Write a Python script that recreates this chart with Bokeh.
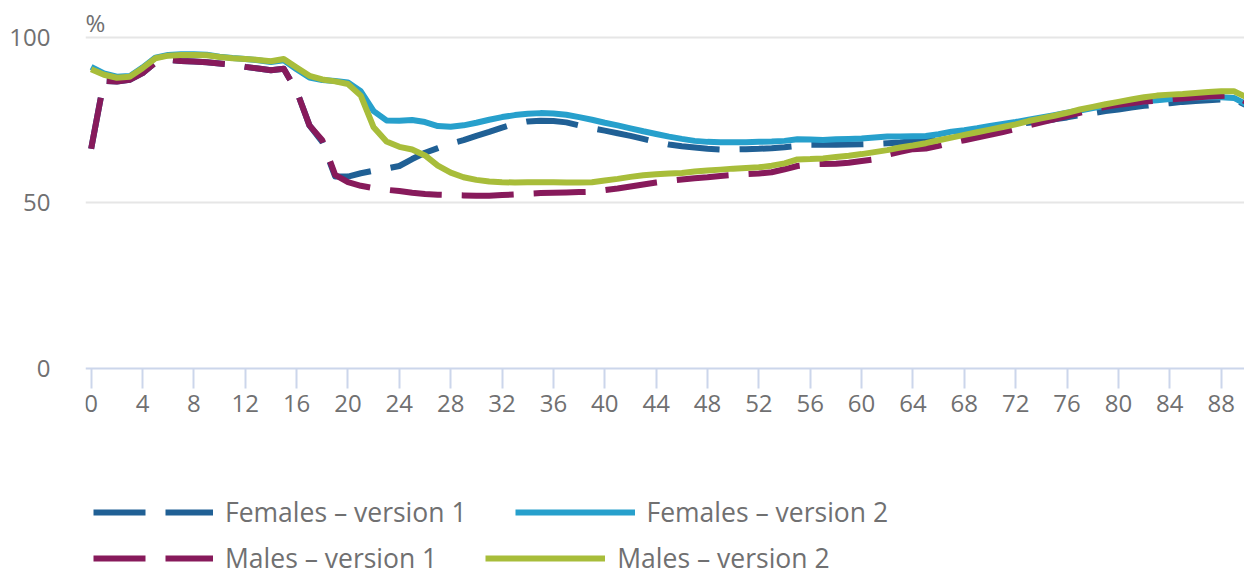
from bokeh.plotting import figure
from bokeh.models import FixedTicker, Range1d, Legend, LegendItem, Label
from bokeh.embed import file_html
from bokeh.resources import INLINE

ages = list(range(0, 91))

females_v1 = [66.4, 87.0, 86.8, 87.3, 89.3, 92.5, 93.3, 93.0, 92.8, 92.6,
              92.2, 91.8, 91.2, 90.7, 90.2, 90.6, 84.0, 73.5, 68.5, 58.0,
              58.0, 59.0, 59.8, 60.4, 61.2, 63.3, 65.2, 66.6, 68.0, 69.0,
              70.3, 71.5, 72.8, 74.0, 74.7, 74.9, 74.8, 74.4, 73.5, 72.6,
              71.9, 71.1, 70.3, 69.4, 68.5, 67.7, 67.2, 66.8, 66.4, 66.2,
              66.2, 66.3, 66.4, 66.6, 66.9, 67.3, 67.6, 67.6, 67.6, 67.7,
              67.8, 67.9, 68.1, 68.3, 68.8, 69.4, 70.1, 70.8, 71.5, 72.1,
              72.7, 73.3, 73.8, 74.3, 74.8, 75.3, 75.9, 76.6, 77.2, 77.8,
              78.3, 78.9, 79.4, 79.8, 80.2, 80.6, 80.9, 81.1, 81.3, 81.4,
              79.5]

females_v2 = [91.2, 89.2, 88.2, 88.4, 91.0, 94.0, 94.8, 95.0, 95.0, 94.9,
              94.3, 93.9, 93.6, 93.2, 92.7, 93.2, 90.5, 88.0, 87.2, 86.9,
              86.5, 83.8, 77.8, 75.0, 74.9, 75.1, 74.5, 73.3, 73.1, 73.5,
              74.3, 75.2, 76.0, 76.6, 77.0, 77.2, 77.1, 76.7, 76.0, 75.2,
              74.3, 73.5, 72.6, 71.7, 70.9, 70.1, 69.4, 68.8, 68.5, 68.4,
              68.4, 68.4, 68.5, 68.6, 68.8, 69.3, 69.2, 69.1, 69.3, 69.4,
              69.5, 69.8, 70.1, 70.1, 70.2, 70.3, 70.8, 71.6, 72.0, 72.6,
              73.3, 73.9, 74.5, 75.2, 75.9, 76.6, 77.3, 78.0, 78.7, 79.4,
              80.0, 80.5, 80.8, 81.1, 81.5, 81.8, 81.9, 82.0, 82.0, 81.8,
              79.8]

males_v1 = [66.4, 87.0, 86.8, 87.3, 89.3, 92.5, 93.3, 93.0, 92.8, 92.6,
            92.2, 91.8, 91.2, 90.7, 90.2, 90.6, 84.0, 73.5, 69.0, 58.5,
            56.3, 55.2, 54.5, 54.0, 53.6, 53.1, 52.7, 52.5, 52.4, 52.3,
            52.2, 52.2, 52.4, 52.6, 52.8, 53.0, 53.1, 53.2, 53.3, 53.4,
            53.9, 54.4, 55.0, 55.6, 56.2, 56.7, 57.1, 57.5, 57.8, 58.2,
            58.5, 58.7, 58.9, 59.3, 60.2, 61.2, 61.7, 61.8, 61.9, 62.2,
            62.7, 63.2, 64.6, 65.5, 66.3, 66.5, 67.3, 68.2, 69.0, 69.8,
            70.6, 71.5, 72.4, 73.5, 74.4, 75.3, 76.3, 77.3, 78.3, 79.1,
            79.7, 80.2, 80.7, 81.0, 81.3, 81.6, 81.9, 82.2, 82.4, 82.5,
            80.5]

males_v2 = [90.5, 88.8, 87.9, 88.2, 90.8, 93.8, 94.6, 94.8, 94.8, 94.7,
            94.2, 93.8, 93.6, 93.3, 92.9, 93.6, 91.0, 88.5, 87.4, 86.8,
            86.0, 82.5, 72.9, 68.6, 67.0, 66.2, 64.4, 61.3, 59.2, 57.8,
            57.0, 56.5, 56.3, 56.2, 56.3, 56.3, 56.3, 56.2, 56.2, 56.3,
            56.8, 57.3, 57.9, 58.4, 58.7, 58.9, 59.1, 59.5, 59.8, 60.1,
            60.4, 60.6, 60.8, 61.3, 62.0, 63.2, 63.3, 63.5, 63.9, 64.3,
            64.8, 65.4, 66.0, 66.8, 67.4, 68.1, 69.0, 69.8, 70.6, 71.4,
            72.2, 73.0, 73.8, 74.8, 75.6, 76.4, 77.3, 78.3, 79.1, 79.9,
            80.6, 81.3, 82.0, 82.5, 82.8, 83.0, 83.3, 83.6, 83.8, 83.8,
            82.0]

series_names = ["Females \u2013 version 1", "Females \u2013 version 2",
                "Males \u2013 version 1", "Males \u2013 version 2"]
series_colors = ["#206095", "#27a0cc", "#871a5b", "#a8bd3a"]
series_dashes = ["52 20", "solid", "52 20", "solid"]

x_ticks = list(range(0, 89, 4))
y_ticks = [0, 50, 100]
y_grid_ticks = [50, 100]
unit_label = "%"

FONT = "Open Sans"
TEXT = "#707071"

p = figure(width=1244, height=578, output_backend="svg", toolbar_location=None,
           x_range=Range1d(-0.44, 89.82), y_range=Range1d(-63.65, 108.26),
           min_border_left=85, min_border_right=0, min_border_top=10,
           min_border_bottom=0)
p.title = None
p.outline_line_color = None
p.background_fill_color = "white"
p.border_fill_color = "white"

# axes
xa = p.xaxis[0]
xa.fixed_location = 0
xa.ticker = FixedTicker(ticks=x_ticks)
xa.axis_line_color = "#ccd6eb"
xa.axis_line_width = 2
xa.major_tick_line_color = "#ccd6eb"
xa.major_tick_line_width = 2
xa.major_tick_out = 20
xa.major_tick_in = 0
xa.minor_tick_line_color = None
xa.major_label_text_font = FONT
xa.major_label_text_font_size = "24px"
xa.major_label_text_color = TEXT
xa.major_label_standoff = 7

ya = p.yaxis[0]
ya.ticker = FixedTicker(ticks=y_ticks)
ya.axis_line_color = None
ya.major_tick_line_color = None
ya.minor_tick_line_color = None
ya.major_tick_out = 0
ya.major_tick_in = 0
ya.major_label_text_font = FONT
ya.major_label_text_font_size = "24px"
ya.major_label_text_color = TEXT
ya.major_label_standoff = 35

p.xgrid.visible = False
p.ygrid.ticker = FixedTicker(ticks=y_grid_ticks)
p.ygrid.grid_line_color = "#e6e6e6"
p.ygrid.grid_line_width = 2

renderers = []
for vals, color, dash in zip([females_v1, females_v2, males_v1, males_v2],
                             series_colors, series_dashes):
    r = p.line(ages, vals, line_color=color, line_width=6, line_dash=dash,
               line_cap="butt", line_join="round")
    renderers.append(r)

p.add_layout(Label(x=-0.44, y=104.5, text=unit_label, text_font=FONT,
                   text_font_size="24px", text_color=TEXT,
                   text_baseline="middle", text_align="left"))


def make_legend(items, loc):
    lg = Legend(items=items, location=loc, orientation="horizontal",
                margin=0, padding=0, spacing=48, label_standoff=12,
                glyph_width=120, glyph_height=30, label_height=30,
                label_text_font=FONT, label_text_font_size="26.5px",
                label_text_color=TEXT, border_line_color=None,
                background_fill_alpha=0)
    return lg


leg1 = make_legend([LegendItem(label=series_names[0], renderers=[renderers[0]]),
                    LegendItem(label=series_names[1], renderers=[renderers[1]])],
                   (8, 48))
leg2 = make_legend([LegendItem(label=series_names[2], renderers=[renderers[2]]),
                    LegendItem(label=series_names[3], renderers=[renderers[3]])],
                   (8, 2))
p.add_layout(leg1)
p.add_layout(leg2)

open("out.html", "w").write(file_html(p, INLINE))
